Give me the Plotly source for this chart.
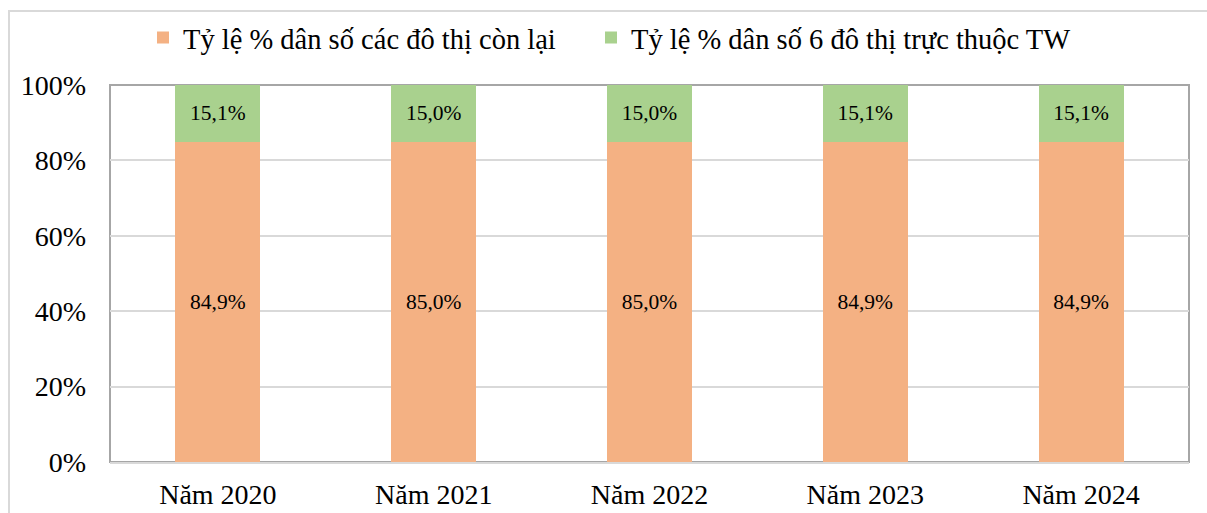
import plotly.graph_objects as go

categories = ["Năm 2020", "Năm 2021", "Năm 2022", "Năm 2023", "Năm 2024"]
remaining = [84.9, 85.0, 85.0, 84.9, 84.9]
central = [15.1, 15.0, 15.0, 15.1, 15.1]
remaining_labels = ["84,9%", "85,0%", "85,0%", "84,9%", "84,9%"]
central_labels = ["15,1%", "15,0%", "15,0%", "15,1%", "15,1%"]
series_names = ["Tỷ lệ % dân số các đô thị còn lại", "Tỷ lệ % dân số 6 đô thị trực thuộc TW"]
y_ticks = [0, 20, 40, 60, 80, 100]
y_ticktext = ["0%", "20%", "40%", "60%", "80%", "100%"]

FONT = "Liberation Serif"

W, H = 1207, 513
L, T = 110, 85
R = W - 1189
B = H - 462
pw = W - L - R
ph = H - T - B

def px_x(wx):
    return (wx - L) / pw

def px_y(wy):
    return (H - B - wy) / ph

fig = go.Figure()
fig.add_trace(go.Bar(
    x=categories, y=remaining, name=series_names[0],
    marker=dict(color="#F4B183", line=dict(width=0)),
    text=remaining_labels, textposition="inside", insidetextanchor="middle",
    textfont=dict(family=FONT, size=21.5, color="#000000"),
    textangle=0, hoverinfo="skip", legend="legend",
))
fig.add_trace(go.Bar(
    x=categories, y=central, name=series_names[1],
    marker=dict(color="#A9D18E", line=dict(width=0)),
    text=central_labels, textposition="inside", insidetextanchor="middle",
    textfont=dict(family=FONT, size=21.5, color="#000000"),
    textangle=0, hoverinfo="skip", legend="legend2",
))

legend_common = dict(
    orientation="h", xanchor="left", yanchor="middle",
    font=dict(family=FONT, size=28.5, color="#000000"),
    bgcolor="rgba(0,0,0,0)", itemwidth=30,
)

fig.update_layout(
    width=W, height=H,
    barmode="stack", bargap=0.606,
    margin=dict(l=L, r=R, t=T, b=B, pad=0, autoexpand=False),
    paper_bgcolor="white", plot_bgcolor="white",
    font=dict(family=FONT, color="#000000", size=28),
    showlegend=True,
    legend=dict(x=px_x(157 - 14), y=px_y(38), **legend_common),
    legend2=dict(x=px_x(605 - 14), y=px_y(38), **legend_common),
    xaxis=dict(
        showgrid=False, showline=True, linecolor="#D9D9D9", linewidth=2,
        ticks="", tickfont=dict(family=FONT, size=28, color="#000000"),
        ticklabelstandoff=6, automargin=False,
        fixedrange=True,
    ),
    yaxis=dict(
        range=[0, 100], tickvals=y_ticks, ticktext=y_ticktext,
        showgrid=True, gridcolor="#D9D9D9", gridwidth=2,
        showline=False, zeroline=False, ticks="",
        tickfont=dict(family=FONT, size=28, color="#000000"),
        ticklabelstandoff=23, automargin=False,
        fixedrange=True,
    ),
    shapes=[
        dict(type="rect", xref="paper", yref="paper", x0=0, x1=1, y0=0, y1=1,
             line=dict(color="#A6A6A6", width=2), fillcolor="rgba(0,0,0,0)", layer="below"),
        dict(type="rect", xref="paper", yref="paper",
             x0=px_x(9), x1=px_x(1240),
             y0=px_y(560), y1=px_y(11),
             line=dict(color="#D9D9D9", width=2), fillcolor="rgba(0,0,0,0)", layer="below"),
    ],
)

fig.write_html(
    "out.html",
    config={"displayModeBar": False, "staticPlot": True},
    post_script="document.body.style.margin='0';document.body.style.overflow='hidden';",
)
